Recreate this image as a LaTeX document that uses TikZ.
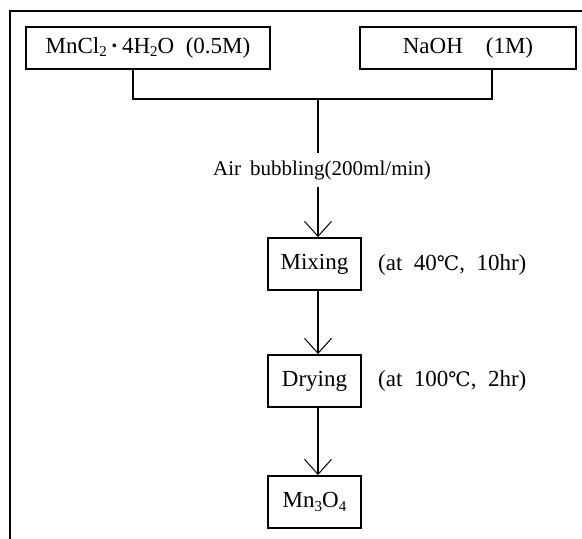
\documentclass[tikz,border=0pt]{standalone}
\usepackage{fontspec}
\setmainfont{Liberation Serif}
\newfontfamily\degfont{DejaVu Serif}
\usetikzlibrary{arrows.meta}
\newcommand\chsub[1]{\raisebox{-0.3ex}{\fontsize{15}{15}\selectfont #1}}
\newcommand\degc{{\degfont\fontsize{20}{20}\selectfont ℃}}
\begin{document}
\begin{tikzpicture}[x=1pt,y=-1pt,
  every node/.style={font=\fontsize{23}{26}\selectfont, inner sep=0pt},
  box/.style={draw, line width=1.9pt, minimum height=42pt},
  stepbox/.style={draw, line width=1.9pt, minimum width=93pt, minimum height=52pt},
  conn/.style={line width=1.6pt},
  arr/.style={line width=1.6pt, -{Straight Barb[length=15pt,width=27pt,line width=1pt]}},
  frame/.style={line width=1.9pt}]
\useasboundingbox (0,0) rectangle (582,539);
% frame
\coordinate (fa) at (10,11);
\coordinate (fb) at (582,11);
\coordinate (fc) at (10,539);
\draw[frame] (fb) -- (fa) -- (fc);
% inputs
\node[box, minimum width=244pt] (mn) at (148,48) {MnCl\chsub{2}\,{\bfseries·}\,4H\chsub{2}O\ \ (0.5M)};
\node[box, minimum width=216pt] (na) at (468,48) {NaOH\ \ \ \ (1M)};
\coordinate (j1) at (133,99);
\coordinate (j2) at (492,99);
\coordinate (jm) at (318,99);
\draw[conn] (mn.south -| j1) -- (j1) -- (j2) -- (na.south -| j2);
\node[font=\fontsize{21}{24}\selectfont, inner ysep=7pt] (air) at (322,170) {Air\hspace{9pt}bubbling(200ml/min)};
\draw[conn] (jm) -- (jm |- air.north);
% steps
\node[stepbox] (mix) at (314.5,264) {Mixing};
\node[stepbox] (dry) at (314.5,381) {Drying};
\node[stepbox] (prod) at (314.5,502) {Mn\chsub{3}O\chsub{4}};
\coordinate (ax) at (318,0);
\draw[arr] (ax |- air.south) -- (ax |- mix.north);
\draw[arr] (ax |- mix.south) -- (ax |- dry.north);
\draw[arr] (ax |- dry.south) -- (ax |- prod.north);
\node[anchor=west] (c1) at (378,265) {(at\ \ 40\degc,\ \ 10hr)};
\node[anchor=west] (c2) at (378,381) {(at\ \ 100\degc,\ \ 2hr)};
\end{tikzpicture}
\end{document}
